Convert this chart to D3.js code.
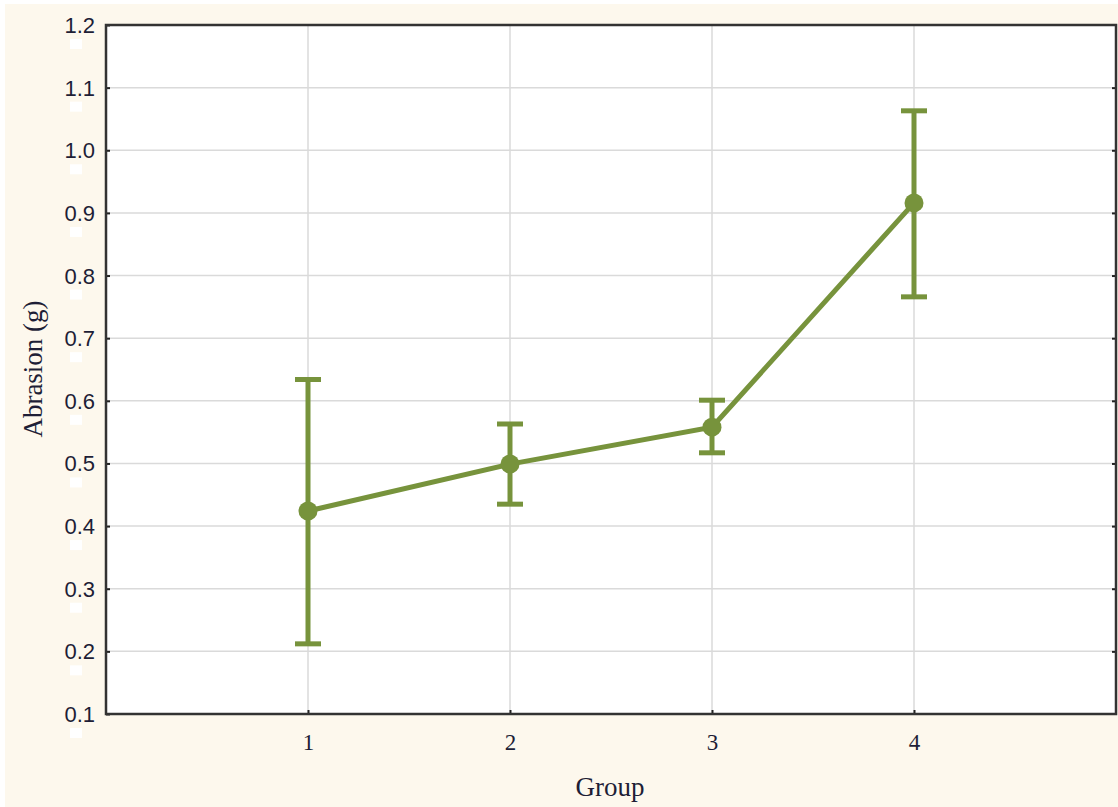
<!DOCTYPE html>
<html><head><meta charset="utf-8">
<script src="https://cdn.jsdelivr.net/npm/d3@7"></script>
<style>html,body{margin:0;padding:0;background:#fff;}svg{display:block;}</style>
</head><body>
<svg id="c" width="1118" height="807"></svg>
<script>
const groups = [1, 2, 3, 4];
const means = [0.424, 0.499, 0.558, 0.916];
const upper = [0.634, 0.563, 0.601, 1.063];
const lower = [0.212, 0.435, 0.517, 0.766];
const yTicks = [0.1, 0.2, 0.3, 0.4, 0.5, 0.6, 0.7, 0.8, 0.9, 1.0, 1.1, 1.2];
const xLabel = "Group";
const yLabel = "Abrasion (g)";

const svg = d3.select("#c");
const W = 1118, H = 807;
const L = 106, R = 1116, T = 25, B = 714;
const green = "#77933c";

svg.append("rect").attr("x", 5).attr("y", 4).attr("width", W - 5).attr("height", H - 4).attr("fill", "#fdf8ed");

const x = d3.scaleLinear().domain([0, 5]).range([L, R]);
const y = d3.scaleLinear().domain([0.1, 1.2]).range([B, T]);

svg.append("rect").attr("x", L).attr("y", T).attr("width", R - L).attr("height", B - T).attr("fill", "#fff");

// grid
svg.append("g").selectAll("line").data(yTicks.slice(1, -1)).join("line")
  .attr("x1", L).attr("x2", R).attr("y1", d => y(d)).attr("y2", d => y(d))
  .attr("stroke", "#dadada").attr("stroke-width", 1.5);
svg.append("g").selectAll("line").data(groups).join("line")
  .attr("x1", d => x(d)).attr("x2", d => x(d)).attr("y1", T).attr("y2", B)
  .attr("stroke", "#dadada").attr("stroke-width", 1.5);

// axes
const yAxis = d3.axisLeft(y).tickValues(yTicks).tickFormat(d3.format(".1f")).tickSize(-4).tickPadding(11);
const gy = svg.append("g").attr("transform", `translate(${L},0)`).call(yAxis);
gy.select(".domain").remove();
gy.selectAll(".tick line").attr("stroke", "#222").attr("stroke-width", 2);
gy.selectAll(".tick text").attr("font-family", "Liberation Sans, Arial, sans-serif").attr("font-size", 22).attr("fill", "#1e1e36").attr("dy", "0.34em");
// small white marks under tick labels (as in source)
svg.append("g").selectAll("rect").data(yTicks).join("rect")
  .attr("x", 70).attr("y", d => y(d) + 14).attr("width", 12).attr("height", 10).attr("fill", "#fff");

const yAxisR = d3.axisRight(y).tickValues(yTicks.slice(1, -1)).tickFormat("").tickSize(-4);
const gyr = svg.append("g").attr("transform", `translate(${R},0)`).call(yAxisR);
gyr.select(".domain").remove();
gyr.selectAll(".tick line").attr("stroke", "#222").attr("stroke-width", 2);

const xAxis = d3.axisBottom(x).tickValues(groups).tickFormat(d3.format("d")).tickSize(-4).tickPadding(20);
const gx = svg.append("g").attr("transform", `translate(0,${B})`).call(xAxis);
gx.select(".domain").remove();
gx.selectAll(".tick line").attr("stroke", "#222").attr("stroke-width", 2);
gx.selectAll(".tick text").attr("font-family", "Liberation Serif, Times New Roman, serif").attr("font-size", 23).attr("fill", "#1e1e36");

svg.append("rect").attr("x", L).attr("y", T).attr("width", R - L).attr("height", B - T)
  .attr("fill", "none").attr("stroke", "#333").attr("stroke-width", 2.5);

// titles
svg.append("text").attr("x", 610).attr("y", 796).attr("text-anchor", "middle")
  .attr("font-family", "Liberation Serif, Times New Roman, serif").attr("font-size", 27).attr("fill", "#1e1e36").text(xLabel);
svg.append("text").attr("transform", `translate(42,369) rotate(-90)`).attr("text-anchor", "middle")
  .attr("font-family", "Liberation Serif, Times New Roman, serif").attr("font-size", 27).attr("fill", "#1e1e36").text(yLabel);

// data
const data = groups.map((g, i) => ({g, m: means[i], u: upper[i], l: lower[i]}));
const eb = svg.append("g").attr("stroke", green).attr("stroke-width", 5);
eb.selectAll(".v").data(data).join("line").attr("x1", d => x(d.g)).attr("x2", d => x(d.g)).attr("y1", d => y(d.u)).attr("y2", d => y(d.l));
eb.selectAll(".cu").data(data).join("line").attr("x1", d => x(d.g) - 13).attr("x2", d => x(d.g) + 13).attr("y1", d => y(d.u)).attr("y2", d => y(d.u));
eb.selectAll(".cl").data(data).join("line").attr("x1", d => x(d.g) - 13).attr("x2", d => x(d.g) + 13).attr("y1", d => y(d.l)).attr("y2", d => y(d.l));

svg.append("path").datum(data).attr("fill", "none").attr("stroke", green).attr("stroke-width", 5)
  .attr("d", d3.line().x(d => x(d.g)).y(d => y(d.m)));
svg.append("g").selectAll("circle").data(data).join("circle")
  .attr("cx", d => x(d.g)).attr("cy", d => y(d.m)).attr("r", 9.5).attr("fill", green);
</script>
</body></html>
